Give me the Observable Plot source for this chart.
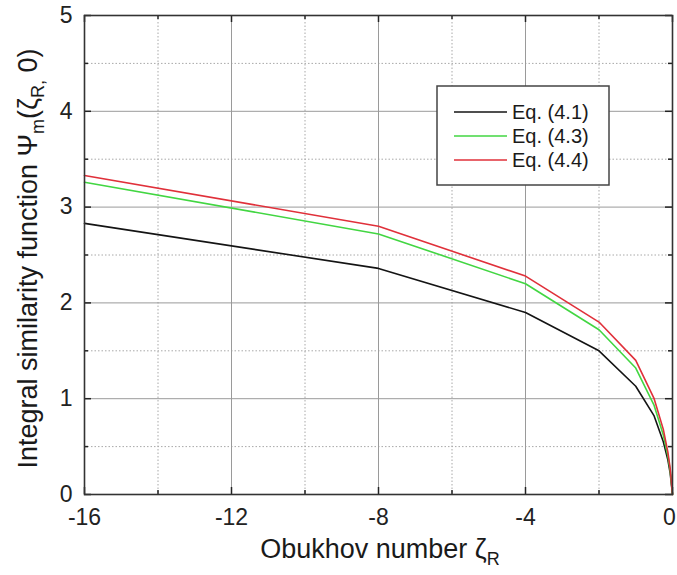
<!DOCTYPE html>
<html>
<head>
<meta charset="utf-8">
<script src="https://cdn.jsdelivr.net/npm/d3@7"></script>
<script src="https://cdn.jsdelivr.net/npm/@observablehq/plot@0.6"></script>
<style>
  body { margin: 0; background: #fff; }
  svg { display: block; }
</style>
</head>
<body>
<div id="chart"></div>
<script>
// Obukhov number values at which the similarity functions were evaluated
const zeta = [-16, -8, -4, -2, -1, -0.5, -0.25, -0.125, -0.0625, 0];
// Integral similarity function for each equation
const eq41 = [2.83, 2.36, 1.90, 1.50, 1.13, 0.82, 0.55, 0.36, 0.22, 0];
const eq43 = [3.26, 2.72, 2.20, 1.72, 1.32, 0.93, 0.62, 0.40, 0.25, 0];
const eq44 = [3.33, 2.80, 2.28, 1.80, 1.40, 1.00, 0.68, 0.44, 0.27, 0];

const seriesNames = ["Eq. (4.1)", "Eq. (4.3)", "Eq. (4.4)"];
const seriesColors = ["#141414", "#42d642", "#e0303a"];

// Axis ticks and grid levels
const xMajor = [-16, -12, -8, -4, 0];
const xMinor = [-14, -10, -6, -2];
const yMajor = [0, 1, 2, 3, 4, 5];
const yMinor = [0.5, 1.5, 2.5, 3.5, 4.5];

const rows = [eq41, eq43, eq44].flatMap((vals, s) =>
  vals.map((v, i) => ({zeta: zeta[i], psi: v, series: seriesNames[s]}))
);

const W = 677, H = 575;
const mL = 84, mR = 5, mT = 15, mB = 81;
const innerW = W - mL - mR, innerH = H - mT - mB;
const font = "Arial, 'Liberation Sans', Helvetica, sans-serif";
const plain = d => String(d); // hyphen-minus, no trailing decimals

const gridSolid = {stroke: "#9a9a9a", strokeWidth: 1};
const gridDotted = {stroke: "#a8a8a8", strokeWidth: 1, strokeDasharray: "1.5,2"};
const tickStyle = {stroke: "#222", strokeWidth: 1.5};
const tickText = {tickSize: 0, fontSize: 23, label: null, fill: "#222", tickFormat: plain};

const plot = Plot.plot({
  width: W,
  height: H,
  marginLeft: mL,
  marginRight: mR,
  marginTop: mT,
  marginBottom: mB,
  style: {fontFamily: font, background: "#fff", color: "#222", overflow: "visible"},
  x: {domain: [-16, 0]},
  y: {domain: [0, 5]},
  color: {domain: seriesNames, range: seriesColors},
  marks: [
    // grid
    Plot.ruleX(xMinor, gridDotted),
    Plot.ruleY(yMinor, gridDotted),
    Plot.ruleX(xMajor.slice(1, -1), gridSolid),
    Plot.ruleY(yMajor.slice(1, -1), gridSolid),
    // inward ticks on all four sides
    Plot.ruleX(xMajor, {...tickStyle, insetTop: innerH - 7}),
    Plot.ruleX(xMinor, {...tickStyle, insetTop: innerH - 4}),
    Plot.ruleX(xMajor, {...tickStyle, insetBottom: innerH - 7}),
    Plot.ruleX(xMinor, {...tickStyle, insetBottom: innerH - 4}),
    Plot.ruleY(yMajor, {...tickStyle, insetRight: innerW - 7}),
    Plot.ruleY(yMinor, {...tickStyle, insetRight: innerW - 4}),
    Plot.ruleY(yMajor, {...tickStyle, insetLeft: innerW - 7}),
    Plot.ruleY(yMinor, {...tickStyle, insetLeft: innerW - 4}),
    // curves
    Plot.line(rows, {x: "zeta", y: "psi", z: "series", stroke: "series", strokeWidth: 1.6}),
    Plot.frame({stroke: "#333", strokeWidth: 1.6}),
    // tick labels
    Plot.axisX(xMajor.slice(0, -1), {...tickText, tickPadding: 14}),
    Plot.axisX([0], {...tickText, tickPadding: 14, dx: -3}),
    Plot.axisY(yMajor, {...tickText, tickPadding: 12})
  ]
});

const svg = d3.select(plot);

// x-axis title with subscript
const xt = svg.append("text")
  .attr("x", mL + innerW / 2 + 2)
  .attr("y", 558)
  .attr("text-anchor", "middle")
  .attr("font-family", font)
  .attr("font-size", 27)
  .attr("fill", "#1a1a1a");
xt.append("tspan").text("Obukhov number ζ");
xt.append("tspan").attr("dy", 7).attr("font-size", 18).text("R");

// y-axis title with subscripts
const yt = svg.append("text")
  .attr("transform", `translate(37,${mT + innerH / 2 + 4}) rotate(-90)`)
  .attr("text-anchor", "middle")
  .attr("font-family", font)
  .attr("font-size", 27)
  .attr("fill", "#1a1a1a");
yt.append("tspan").text("Integral similarity function Ψ");
yt.append("tspan").attr("dy", 7).attr("font-size", 18).text("m");
yt.append("tspan").attr("dy", -7).text("(ζ");
yt.append("tspan").attr("dy", 7).attr("font-size", 18).text("R,");
yt.append("tspan").attr("dy", -7).text(" 0)");

// legend box
const lg = svg.append("g");
lg.append("rect")
  .attr("x", 437).attr("y", 86).attr("width", 172).attr("height", 99)
  .attr("fill", "#fff").attr("stroke", "#444").attr("stroke-width", 1.5);
seriesNames.forEach((name, i) => {
  const y = 112 + i * 24;
  lg.append("line")
    .attr("x1", 454).attr("x2", 507).attr("y1", y).attr("y2", y)
    .attr("stroke", seriesColors[i]).attr("stroke-width", 1.6);
  lg.append("text")
    .attr("x", 512).attr("y", y).attr("dy", "0.36em")
    .attr("text-anchor", "start")
    .attr("font-family", font).attr("font-size", 20).attr("fill", "#1a1a1a")
    .text(name);
});

document.getElementById("chart").appendChild(plot);
</script>
</body>
</html>
